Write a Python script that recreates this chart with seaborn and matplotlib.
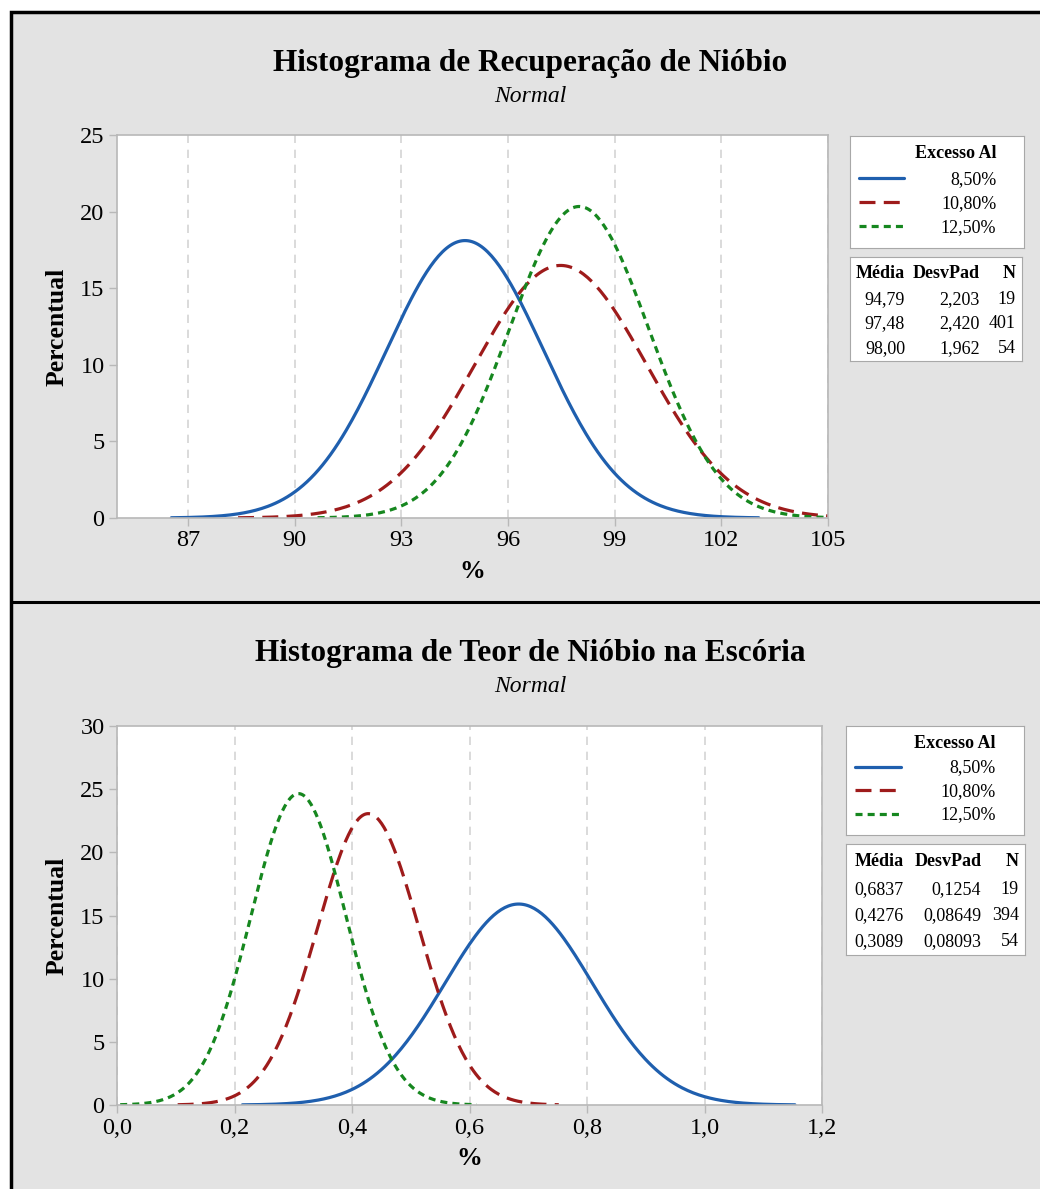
import numpy as np
import pandas as pd
import matplotlib
matplotlib.use('Agg')
import matplotlib.pyplot as plt
import seaborn as sns
from matplotlib.patches import Rectangle
from matplotlib.lines import Line2D
from matplotlib.ticker import FuncFormatter, MultipleLocator

# dados (Minitab)
grupos = ['8,50%', '10,80%', '12,50%']
rec_media = [94.79, 97.48, 98.00]
rec_desvpad = [2.203, 2.420, 1.962]
rec_n = [19, 401, 54]
teor_media = [0.6837, 0.4276, 0.3089]
teor_desvpad = [0.1254, 0.08649, 0.08093]
teor_n = [19, 394, 54]

cores = {'8,50%': '#1f5fae', '10,80%': '#9e1b1b', '12,50%': '#16871f'}
tracos = {'8,50%': '', '10,80%': (5, 2.6), '12,50%': (2.2, 1.6)}

sns.set_style('white')
plt.rcParams['font.family'] = ['Liberation Serif', 'DejaVu Serif']
plt.rcParams['text.color'] = 'black'
plt.rcParams['axes.labelcolor'] = 'black'

W, H = 1040, 1189
fig = plt.figure(figsize=(W / 100, H / 100), dpi=100)
fig.patch.set_facecolor('white')
fundo = '#e3e3e3'


def fx(px):
    return px / W


def fy(py):
    return 1 - py / H


# moldura cinza com borda preta
fig.patches.append(Rectangle((fx(11), -0.02), 1.0, fy(12) + 0.02, transform=fig.transFigure,
                             facecolor=fundo, edgecolor='black', linewidth=2.5, zorder=-10))
fig.lines.append(Line2D([fx(11), 1], [fy(602), fy(602)], transform=fig.transFigure,
                        color='black', linewidth=2.2))


def curvas(medias, desvios, largura):
    # curva normal ajustada, escalada para percentual por classe
    linhas = []
    for g, m, s in zip(grupos, medias, desvios):
        x = np.linspace(m - 3.75 * s, m + 3.75 * s, 300)
        y = 100 * largura * np.exp(-0.5 * ((x - m) / s) ** 2) / (s * np.sqrt(2 * np.pi))
        linhas.append(pd.DataFrame({'x': x, 'y': y, 'Excesso Al': g}))
    return pd.concat(linhas, ignore_index=True)


def painel(rect, dados, xlim, xticks, ylim, ystep, fmt_x, titulo, y_titulo,
           leg_box, tab_box, medias, desvios, ns, fmt_m, fmt_s):
    ax = fig.add_axes(rect)
    ax.set_facecolor('white')
    sns.lineplot(data=dados, x='x', y='y', hue='Excesso Al', style='Excesso Al',
                 palette=cores, dashes=tracos, estimator=None, sort=False,
                 linewidth=2.3, legend=False, ax=ax)
    ax.set_xlim(*xlim)
    ax.set_ylim(*ylim)
    ax.set_xticks(xticks)
    ax.yaxis.set_major_locator(MultipleLocator(ystep))
    ax.xaxis.set_major_formatter(FuncFormatter(fmt_x))
    for t in xticks:
        ax.axvline(t, color='#d4d4d4', linestyle=(0, (5, 4)), linewidth=1.2, zorder=0)
    for sp in ax.spines.values():
        sp.set_color('#b8b8b8')
        sp.set_linewidth(1.2)
    ax.tick_params(axis='both', direction='out', length=6, width=1, color='#b8b8b8',
                   labelsize=17.5, labelcolor='black', pad=3, bottom=True, left=True)
    ax.set_xlabel('%', fontsize=18.5, fontweight='bold', labelpad=6)
    ax.set_ylabel('Percentual', fontsize=18.5, fontweight='bold', labelpad=8)

    fig.text(0.51, fy(y_titulo), titulo, ha='center', va='center', fontsize=22.5, fontweight='bold')
    fig.text(0.51, fy(y_titulo + 34), 'Normal', ha='center', va='center', fontsize=17, style='italic')

    # legenda
    x0, y0, x1, y1 = leg_box
    lax = fig.add_axes([fx(x0), fy(y1), fx(x1 - x0), (y1 - y0) / H])
    lax.set_xlim(0, 1)
    lax.set_ylim(0, 1)
    lax.set_xticks([])
    lax.set_yticks([])
    lax.set_facecolor('white')
    for sp in lax.spines.values():
        sp.set_color('#a8a8a8')
    lax.text(0.84, 0.80, 'Excesso Al', ha='right', va='baseline', fontsize=13, fontweight='bold')
    for g, yy in zip(grupos, [0.625, 0.41, 0.195]):
        ln, = lax.plot([0.05, 0.31], [yy, yy], color=cores[g], linewidth=2.3)
        if tracos[g]:
            ln.set_dashes(tracos[g])
        lax.text(0.84, yy - 0.05, g, ha='right', va='baseline', fontsize=13)

    # tabela de estatisticas
    x0, y0, x1, y1 = tab_box
    tax = fig.add_axes([fx(x0), fy(y1), fx(x1 - x0), (y1 - y0) / H])
    tax.set_xlim(0, 1)
    tax.set_ylim(0, 1)
    tax.set_xticks([])
    tax.set_yticks([])
    tax.set_facecolor('white')
    for sp in tax.spines.values():
        sp.set_color('#a8a8a8')
    cols = [0.32, 0.755, 0.965]
    for c, h in zip(cols, ['Média', 'DesvPad', 'N']):
        tax.text(c, 0.80, h, ha='right', va='baseline', fontsize=13, fontweight='bold')
    for m, s, n, yy in zip(medias, desvios, ns, [0.55, 0.315, 0.08]):
        vals = [fmt_m(m), fmt_s(s), str(n)]
        for c, v in zip(cols, vals):
            tax.text(c, yy, v, ha='right', va='baseline', fontsize=13)
    return ax


virg = lambda s: s.replace('.', ',')

painel([fx(117), fy(518), fx(828 - 117), (518 - 135) / H],
       curvas(rec_media, rec_desvpad, 1.0),
       (85, 105), [87, 90, 93, 96, 99, 102, 105], (0, 25), 5,
       lambda v, p: f'{v:.0f}',
       'Histograma de Recuperação de Nióbio', 63,
       (850, 136, 1024, 248), (850, 257, 1022, 361),
       rec_media, rec_desvpad, rec_n,
       lambda v: virg(f'{v:.2f}'), lambda v: virg(f'{v:.3f}'))

painel([fx(117), fy(1105), fx(822 - 117), (1105 - 726) / H],
       curvas(teor_media, teor_desvpad, 0.05),
       (0, 1.2), [0.0, 0.2, 0.4, 0.6, 0.8, 1.0, 1.2], (0, 30), 5,
       lambda v, p: virg(f'{v:.1f}'),
       'Histograma de Teor de Nióbio na Escória', 653,
       (846, 726, 1024, 835), (846, 844, 1025, 955),
       teor_media, teor_desvpad, teor_n,
       lambda v: virg(f'{v:.4g}'), lambda v: virg(f'{v:.4g}'))

fig.savefig('out.png', dpi=100, facecolor=fig.get_facecolor())
